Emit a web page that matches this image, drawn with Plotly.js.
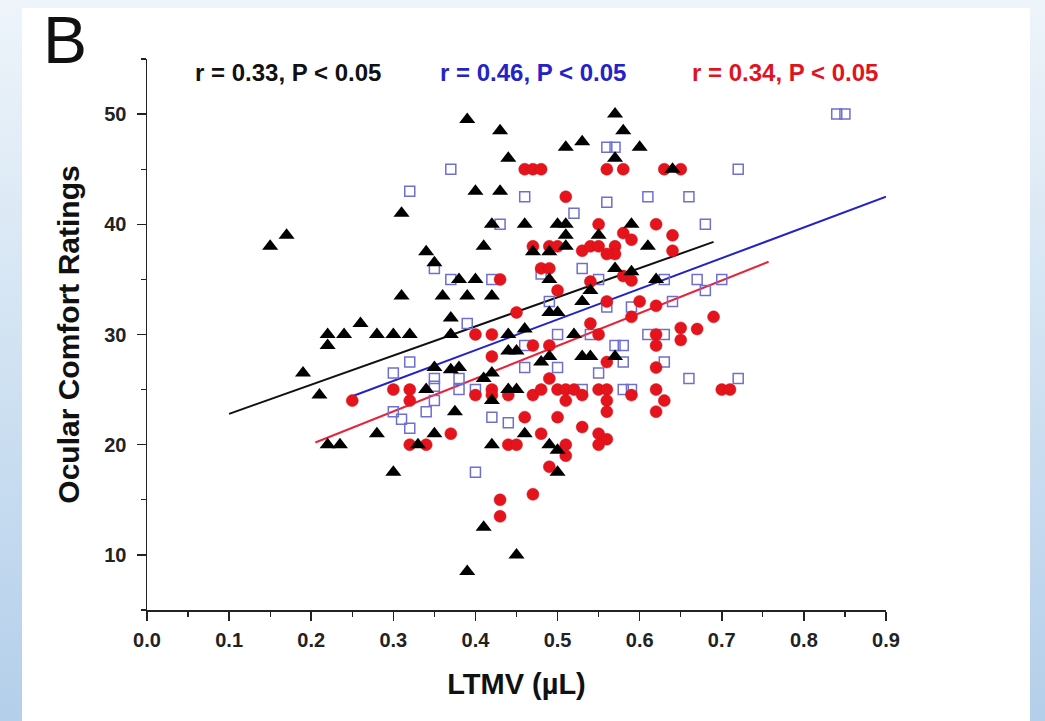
<!DOCTYPE html>
<html>
<head>
<meta charset="utf-8">
<script src="https://cdn.plot.ly/plotly-3.0.1.min.js"></script>
<style>
  html, body { margin: 0; padding: 0; width: 1045px; height: 721px; overflow: hidden; }
  body { background: linear-gradient(to bottom, #eef4fa 0%, #d3e4f3 45%, #b4cfea 100%); position: relative; }
  #panel { position: absolute; left: 22px; top: 8px; width: 1008px; height: 713px; background: #ffffff; }
  #chart { position: absolute; left: 0; top: 0; width: 1045px; height: 721px; }
</style>
</head>
<body>
<div id="panel"></div>
<div id="chart"></div>
<script>
// Black triangles
const triX = [0.15,0.17,0.19,0.21,0.22,0.22,0.22,0.235,0.24,0.26,0.28,0.28,0.30,0.30,0.31,0.31,0.32,0.33,0.34,0.34,
  0.35,0.35,0.35,0.36,0.37,0.37,0.37,0.38,0.38,0.375,0.39,0.39,0.39,0.40,0.40,0.41,0.41,0.41,0.42,0.42,
  0.42,0.42,0.42,0.43,0.43,0.44,0.44,0.44,0.45,0.44,0.45,0.45,0.46,0.46,0.46,0.47,0.49,0.48,0.49,0.49,
  0.49,0.50,0.49,0.50,0.50,0.50,0.51,0.51,0.51,0.51,0.52,0.53,0.53,0.53,0.54,0.54,0.55,0.57,0.57,0.57,
  0.57,0.58,0.59,0.59,0.60,0.61,0.62,0.64];
const triY = [38,39,26.5,24.5,30,29,20,20,30,31,30,21,30,17.5,41,33.5,30,20,37.5,25,
  36.5,27,21,33.5,31.5,30,26.8,27,35,23,49.5,33.5,8.5,43,35,38,26,12.5,40,33.5,
  26.5,24,20,48.5,43,46,30,28.5,28.5,25,25,10,40,30.5,21,37.5,37.5,27.5,28,35,
  32,32,20,40,19.5,17.5,47,40,39,38,30,47.5,33,28,28,34,39,50,46,36,
  28,48.5,40,35.7,47,38,35,45];

// Blue open squares
const sqX = [0.32,0.37,0.35,0.37,0.32,0.30,0.35,0.35,0.30,0.35,0.31,0.32,0.34,0.39,0.40,0.43,0.42,0.42,0.44,0.46,
  0.46,0.56,0.57,0.56,0.61,0.52,0.53,0.84,0.85,0.72,0.66,0.68,0.63,0.67,0.70,0.68,0.64,0.61,0.63,0.63,
  0.66,0.72,0.56,0.59,0.50,0.57,0.58,0.58,0.55,0.50,0.38,0.38,0.40,0.53,0.58,0.59,0.55,0.49,0.54,0.46,0.48];
const sqY = [43,45,36,35,27.5,26.5,26,25.3,23,24,22.3,21.5,23,31,17.5,40,35,22.5,22,42.5,
  27,47,47,42,42.5,41,36,50,50,45,42.5,40,35,35,35,34,33,30,30,27.5,
  26,26,32.5,32.5,30,29,29,27.5,26.5,27,26,25,25,25,25,25,35,33,30,29,35.5];

// Red filled circles
const cirX = [0.25,0.30,0.32,0.32,0.32,0.34,0.37,0.40,0.40,0.42,0.42,0.42,0.42,0.43,0.43,0.43,0.44,0.44,0.45,0.45,
  0.46,0.46,0.47,0.48,0.47,0.47,0.47,0.49,0.47,0.48,0.48,0.48,0.49,0.49,0.49,0.50,0.50,0.50,0.49,0.50,
  0.51,0.51,0.51,0.51,0.51,0.52,0.53,0.54,0.55,0.53,0.53,0.54,0.54,0.55,0.55,0.55,0.56,0.56,0.56,0.55,
  0.56,0.55,0.56,0.56,0.57,0.57,0.56,0.56,0.58,0.58,0.59,0.58,0.59,0.59,0.59,0.60,0.62,0.62,0.62,0.62,
  0.62,0.62,0.62,0.63,0.64,0.64,0.63,0.65,0.65,0.65,0.67,0.69,0.70,0.71];
const cirY = [24,25,25,24,20,20,21,30,24.5,30,28,25,24.5,35,15,13.5,24.5,20,20,32,
  22.5,45,45,45,38,15.5,29,29,24.5,25,21,36,36,26,18,34,25,22.5,38,38,
  42.5,25,24,20,19,25,37.6,38,38,24.5,21.6,31,34.8,40,30,25,25,24,23,21,
  20.5,20,33,27.5,38,37.3,37.3,45,45,39.2,38.6,35.3,34.9,31.6,24.5,33,32.6,40,30,29,
  27,25,23,24,39,37.6,45,45,30.6,29.5,30.5,31.6,25,25];

// Regression lines (endpoints)
const fitBlackX = [0.10, 0.69], fitBlackY = [22.8, 38.4];
const fitBlueX  = [0.25, 0.90], fitBlueY  = [24.4, 42.5];
const fitRedX   = [0.205, 0.757], fitRedY = [20.2, 36.6];

const labels = ['r = 0.33, P < 0.05', 'r = 0.46, P < 0.05', 'r = 0.34, P < 0.05'];
const colors = ['#111111', '#2323c8', '#e0141e'];

const FONT = 'Liberation Sans, Arial, sans-serif';

const traces = [
  {x: fitBlackX, y: fitBlackY, mode: 'lines', line: {color: '#111111', width: 2}, hoverinfo: 'skip'},
  {x: fitBlueX, y: fitBlueY, mode: 'lines', line: {color: '#2323c8', width: 2}, hoverinfo: 'skip'},
  {x: fitRedX, y: fitRedY, mode: 'lines', line: {color: '#e8243a', width: 2}, hoverinfo: 'skip'},
  {x: sqX, y: sqY, mode: 'markers', marker: {symbol: 'square-open', size: 10, color: '#6f6fd0', line: {width: 1.5}}},
  {x: cirX, y: cirY, mode: 'markers', marker: {symbol: 'circle', size: 12, color: '#e5141c', line: {color: '#d01018', width: 0.5}}},
  {x: triX, y: triY, mode: 'markers', marker: {symbol: 'triangle-up', size: 14, color: '#000000'}}
];

function px2paperX(px) { return (px - 147) / 739; }
function px2paperY(py) { return (610 - py) / 551; }

const layout = {
  width: 1045, height: 721,
  margin: {l: 147, r: 159, t: 59, b: 111},
  paper_bgcolor: 'rgba(0,0,0,0)', plot_bgcolor: 'rgba(0,0,0,0)',
  showlegend: false,
  font: {family: FONT, color: '#111'},
  xaxis: {
    range: [0, 0.9], dtick: 0.1, tick0: 0, tickformat: '.1f',
    showgrid: false, zeroline: false, showline: true, linecolor: '#222', linewidth: 1.5,
    ticks: 'outside', ticklen: 9, tickwidth: 1.5, tickcolor: '#222', ticklabelstandoff: 2,
    minor: {dtick: 0.05, ticks: 'outside', ticklen: 5, tickwidth: 1.2, tickcolor: '#222'},
    tickfont: {family: FONT, size: 20, weight: 'bold', color: '#222'},
    title: {text: 'LTMV (µL)', font: {family: FONT, size: 29, weight: 'bold', color: '#111'}, standoff: 24}
  },
  yaxis: {
    range: [5, 55], dtick: 10, tick0: 0,
    showgrid: false, zeroline: false, showline: true, linecolor: '#222', linewidth: 1.5,
    ticks: 'outside', ticklen: 9, tickwidth: 1.5, tickcolor: '#222', ticklabelstandoff: 6,
    minor: {dtick: 5, ticks: 'outside', ticklen: 5, tickwidth: 1.2, tickcolor: '#222'},
    tickfont: {family: FONT, size: 20, weight: 'bold', color: '#222'},
    title: {text: 'Ocular Comfort Ratings', font: {family: FONT, size: 30, weight: 'bold', color: '#111'}, standoff: 16}
  },
  annotations: [
    {text: labels[0], xref: 'paper', yref: 'paper', x: px2paperX(288), y: px2paperY(72), xanchor: 'center', yanchor: 'middle', showarrow: false,
     font: {family: FONT, size: 24, weight: 'bold', color: colors[0]}},
    {text: labels[1], xref: 'paper', yref: 'paper', x: px2paperX(533), y: px2paperY(72), xanchor: 'center', yanchor: 'middle', showarrow: false,
     font: {family: FONT, size: 24, weight: 'bold', color: colors[1]}},
    {text: labels[2], xref: 'paper', yref: 'paper', x: px2paperX(785), y: px2paperY(72), xanchor: 'center', yanchor: 'middle', showarrow: false,
     font: {family: FONT, size: 24, weight: 'bold', color: colors[2]}},
    {text: 'B', xref: 'paper', yref: 'paper', x: px2paperX(65), y: px2paperY(40), xanchor: 'center', yanchor: 'middle', showarrow: false,
     font: {family: FONT, size: 66, color: '#111'}}
  ]
};

Plotly.newPlot('chart', traces, layout, {staticPlot: true});
</script>
</body>
</html>
